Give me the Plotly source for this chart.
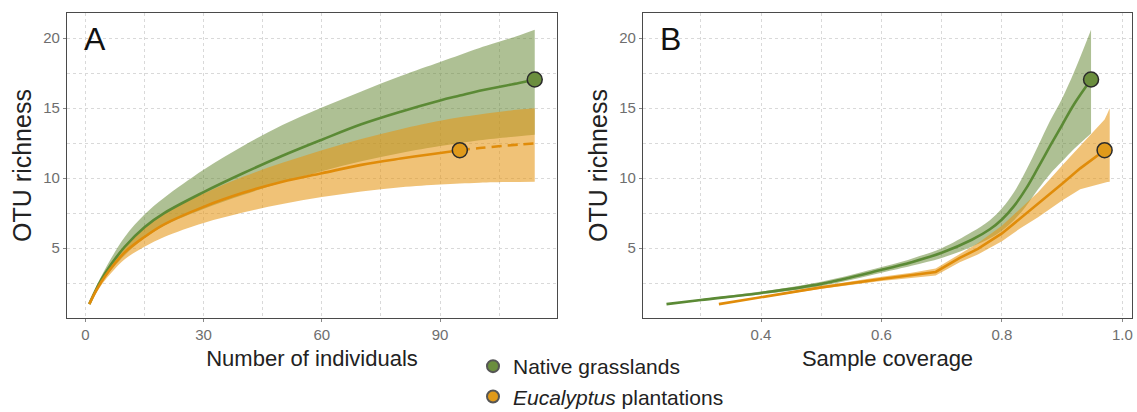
import plotly.graph_objects as go

W, H = 1137, 412

# ---------------- Panel A : sample-size-based rarefaction ----------------
size_pts = [1, 3, 5, 10, 15, 20, 30, 40, 50, 60, 70, 80, 90, 95, 100, 110, 114]

ng_size_mean = [1.0, 2.2, 3.2, 5.1, 6.5, 7.5, 9.0, 10.35, 11.6, 12.75, 13.85, 14.75, 15.55, 15.9, 16.25, 16.8, 17.05]
ng_size_upper = [1.0, 2.4, 3.5, 5.8, 7.4, 8.6, 10.6, 12.3, 13.8, 15.05, 16.2, 17.3, 18.3, 18.8, 19.3, 20.2, 20.6]
ng_size_lower = [1.0, 2.0, 2.9, 4.5, 5.7, 6.6, 7.8, 8.8, 9.7, 10.5, 11.2, 11.8, 12.3, 12.5, 12.7, 13.0, 13.1]

eu_size_obs = [1, 3, 5, 10, 15, 20, 30, 40, 50, 60, 70, 80, 90, 95]
eu_size_mean = [1.0, 2.1, 3.0, 4.7, 5.8, 6.7, 7.95, 8.95, 9.75, 10.35, 10.95, 11.4, 11.8, 12.0]
eu_size_ext = [95, 100, 110, 114]
eu_size_ext_mean = [12.0, 12.15, 12.4, 12.48]
eu_size_upper = [1.0, 2.3, 3.3, 5.2, 6.5, 7.5, 8.9, 10.1, 11.1, 12.0, 12.8, 13.5, 14.1, 14.35, 14.55, 14.9, 15.0]
eu_size_lower = [1.0, 1.9, 2.7, 4.2, 5.1, 5.8, 6.8, 7.55, 8.15, 8.65, 9.05, 9.35, 9.55, 9.62, 9.68, 9.73, 9.74]

ng_ref_size, ng_ref_rich = 114, 17.05
eu_ref_size, eu_ref_rich = 95, 12.0

# ---------------- Panel B : coverage-based rarefaction ----------------
ng_cov = [0.243, 0.30, 0.40, 0.50, 0.60, 0.65, 0.70, 0.75, 0.78, 0.80, 0.82, 0.84, 0.86, 0.88, 0.90, 0.92, 0.948]
ng_cov_mean = [1.0, 1.3, 1.8, 2.45, 3.45, 4.0, 4.67, 5.6, 6.35, 7.05, 8.0, 9.25, 10.75, 12.3, 13.8, 15.3, 17.05]
ng_cov_upper = [1.0, 1.35, 1.9, 2.6, 3.65, 4.25, 5.0, 6.15, 7.0, 7.85, 9.0, 10.55, 12.3, 14.1, 15.7, 17.6, 20.6]
ng_cov_lower = [1.0, 1.25, 1.7, 2.3, 3.25, 3.75, 4.3, 5.1, 5.7, 6.25, 7.0, 8.0, 9.2, 10.3, 11.2, 12.1, 13.2]

eu_cov_obs = [0.33, 0.40, 0.50, 0.60, 0.65, 0.69, 0.73, 0.76, 0.80, 0.83, 0.86, 0.90, 0.93, 0.9705]
eu_cov_mean = [1.0, 1.5, 2.2, 2.8, 3.05, 3.3, 4.3, 4.95, 6.05, 7.1, 8.15, 9.6, 10.7, 12.0]
eu_cov_ext = [0.9705, 0.975, 0.979]
eu_cov_ext_mean = [12.0, 12.25, 12.48]
eu_cov_all = [0.33, 0.40, 0.50, 0.60, 0.65, 0.69, 0.73, 0.76, 0.80, 0.83, 0.86, 0.90, 0.93, 0.9705, 0.975, 0.979]
eu_cov_upper = [1.0, 1.55, 2.3, 2.95, 3.25, 3.55, 4.6, 5.35, 6.6, 7.8, 9.0, 10.9, 12.3, 14.2, 14.6, 15.0]
eu_cov_lower = [1.0, 1.45, 2.1, 2.65, 2.85, 3.05, 4.0, 4.55, 5.5, 6.4, 7.2, 8.4, 9.2, 9.7, 9.72, 9.74]

ng_ref_cov = 0.948
eu_ref_cov = 0.9705

series_names = ["Native grasslands", "<i>Eucalyptus</i> plantations"]

# ---------------- styles ----------------
GREEN_LINE = "#5b8a35"
GREEN_FILL = "rgba(100,135,50,0.52)"
GREEN_DOT = "#6b8e3e"
ORANGE_LINE = "#e08c0a"
ORANGE_FILL = "rgba(230,150,20,0.58)"
ORANGE_DOT = "#e09a1a"
EDGE = "#2b2b2b"
FONT = "Liberation Sans, Arial, sans-serif"

# page layout (pixels)
ML, MR, MT, MB = 67, 5, 13, 94
PW, PH = W - ML - MR, H - MT - MB


def px_x(px):
    return (px - ML) / PW


def px_y(py):
    return (H - MB - py) / PH


fig = go.Figure()


def band(x, lo, hi, color, xa, ya, shape):
    fig.add_trace(go.Scatter(x=x, y=lo, mode="lines", line=dict(width=0, shape=shape),
                             hoverinfo="skip", showlegend=False, xaxis=xa, yaxis=ya))
    fig.add_trace(go.Scatter(x=x, y=hi, mode="lines", line=dict(width=0, shape=shape),
                             fill="tonexty", fillcolor=color, hoverinfo="skip",
                             showlegend=False, xaxis=xa, yaxis=ya))


def line(x, y, color, xa, ya, shape, dash="solid"):
    fig.add_trace(go.Scatter(x=x, y=y, mode="lines",
                             line=dict(color=color, width=2.6, shape=shape, dash=dash),
                             showlegend=False, xaxis=xa, yaxis=ya))


def dot(x, y, color, xa, ya):
    fig.add_trace(go.Scatter(x=[x], y=[y], mode="markers",
                             marker=dict(size=15, color=color, line=dict(color=EDGE, width=1.5)),
                             showlegend=False, xaxis=xa, yaxis=ya))


# Panel A
band(size_pts, ng_size_lower, ng_size_upper, GREEN_FILL, "x", "y", "spline")
band(size_pts, eu_size_lower, eu_size_upper, ORANGE_FILL, "x", "y", "spline")
line(size_pts, ng_size_mean, GREEN_LINE, "x", "y", "spline")
line(eu_size_obs, eu_size_mean, ORANGE_LINE, "x", "y", "spline")
line(eu_size_ext, eu_size_ext_mean, ORANGE_LINE, "x", "y", "spline", dash="10px,6px")
dot(ng_ref_size, ng_ref_rich, GREEN_DOT, "x", "y")
dot(eu_ref_size, eu_ref_rich, ORANGE_DOT, "x", "y")

# Panel B
band(ng_cov, ng_cov_lower, ng_cov_upper, GREEN_FILL, "x2", "y2", "spline")
band(eu_cov_all, eu_cov_lower, eu_cov_upper, ORANGE_FILL, "x2", "y2", "linear")
line(ng_cov, ng_cov_mean, GREEN_LINE, "x2", "y2", "spline")
line(eu_cov_obs, eu_cov_mean, ORANGE_LINE, "x2", "y2", "linear")
line(eu_cov_ext, eu_cov_ext_mean, ORANGE_LINE, "x2", "y2", "linear", dash="6px,4px")
dot(ng_ref_cov, ng_ref_rich, GREEN_DOT, "x2", "y2")
dot(eu_ref_cov, eu_ref_rich, ORANGE_DOT, "x2", "y2")

# legend entries
for name, col in zip(series_names, [GREEN_DOT, ORANGE_DOT]):
    fig.add_trace(go.Scatter(x=[None], y=[None], mode="markers", name=name,
                             marker=dict(size=11, color=col, line=dict(color="#555", width=1)),
                             xaxis="x", yaxis="y"))

GRID = "#d9d9d9"
tickfont = dict(family=FONT, size=15, color="#6e6e6e")


def xaxis(domain, rng, dtick, minor_dtick, title, fmt):
    return dict(domain=domain, range=rng, tick0=0, dtick=dtick, tickformat=fmt, showgrid=True,
                gridcolor=GRID, griddash="dot", gridwidth=1,
                minor=dict(dtick=minor_dtick, tick0=0, showgrid=True, gridcolor=GRID,
                           griddash="dot", gridwidth=1, ticks=""),
                showline=True, linecolor="#4a4a4a", linewidth=1.2, mirror=True,
                ticks="outside", ticklen=3, tickcolor="#888", tickfont=tickfont,
                zeroline=False, automargin=False,
                title=dict(text=title, font=dict(family=FONT, size=22, color="#222"), standoff=8))


def yaxis(anchor):
    return dict(domain=[0, 1], range=[0.01, 21.8], tick0=0, dtick=5, showgrid=True,
                gridcolor=GRID, griddash="dot", gridwidth=1,
                minor=dict(dtick=2.5, tick0=0, showgrid=True, gridcolor=GRID,
                           griddash="dot", gridwidth=1, ticks=""),
                showline=True, linecolor="#4a4a4a", linewidth=1.2, mirror=True,
                ticks="outside", ticklen=3, tickcolor="#888", tickfont=tickfont,
                zeroline=False, anchor=anchor, automargin=False,
                title=dict(text="OTU richness", font=dict(family=FONT, size=25, color="#222"),
                           standoff=4))


fig.update_layout(
    width=W, height=H, margin=dict(l=ML, r=MR, t=MT, b=MB, autoexpand=False),
    paper_bgcolor="white", plot_bgcolor="white",
    font=dict(family=FONT),
    xaxis=xaxis([px_x(67), px_x(557)], [-4.65, 119.65], 30, 15, "Number of individuals", "d"),
    yaxis=yaxis("x"),
    xaxis2=dict(xaxis([px_x(643), px_x(1132)], [0.204, 1.016], 0.2, 0.1, "Sample coverage", ".1f"),
                anchor="y2"),
    yaxis2=yaxis("x2"),
    showlegend=True,
    legend=dict(x=px_x(473), xanchor="left", y=px_y(346), yanchor="top",
                traceorder="normal",
                font=dict(family=FONT, size=21, color="#222"),
                bgcolor="rgba(0,0,0,0)", tracegroupgap=0, itemsizing="constant"),
    annotations=[
        dict(text="A", x=px_x(82), y=px_y(39), xref="paper", yref="paper",
             xanchor="left", yanchor="middle", showarrow=False,
             font=dict(family=FONT, size=32, color="#111")),
        dict(text="B", x=px_x(658), y=px_y(39), xref="paper", yref="paper",
             xanchor="left", yanchor="middle", showarrow=False,
             font=dict(family=FONT, size=32, color="#111")),
    ],
)

fig.write_html("out.html")
